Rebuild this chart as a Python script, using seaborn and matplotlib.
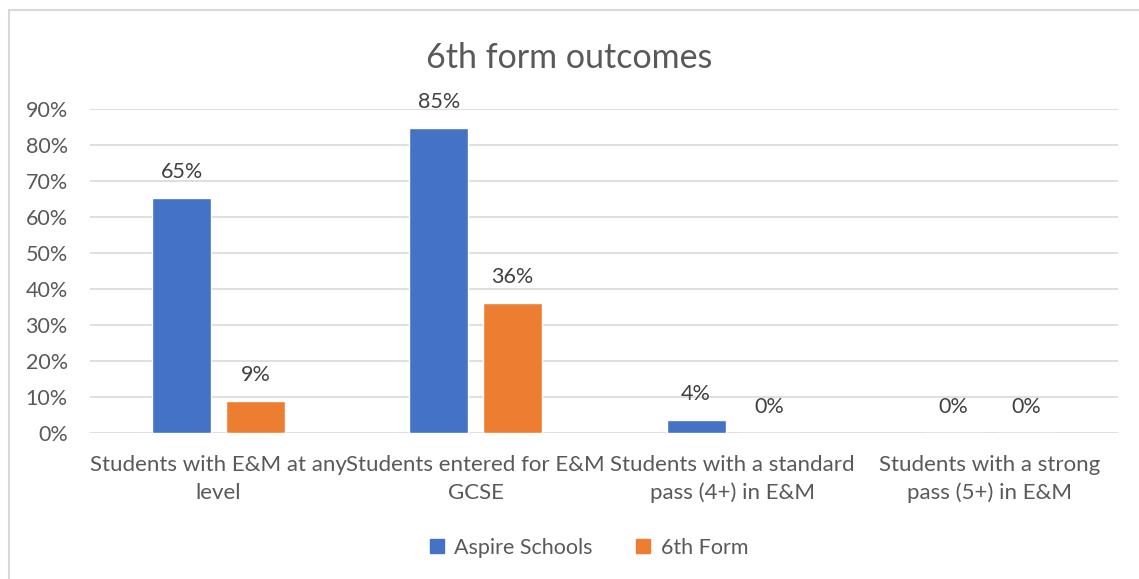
import pandas as pd
import matplotlib.pyplot as plt
import seaborn as sns
from matplotlib.lines import Line2D
from matplotlib.ticker import PercentFormatter

# Data
categories = ['Students with E&M at any\nlevel', 'Students entered for E&M\nGCSE',
              'Students with a standard\npass (4+) in E&M', 'Students with a strong\npass (5+) in E&M']
aspire = [0.653, 0.847, 0.037, 0.0]
sixth_form = [0.089, 0.362, 0.0, 0.0]
series_names = ['Aspire Schools', '6th Form']
colors = ['#4472C4', '#ED7D31']

df = pd.DataFrame({
    'category': categories * 2,
    'value': aspire + sixth_form,
    'series': [series_names[0]] * 4 + [series_names[1]] * 4,
})

sns.set_style('white')
plt.rcParams['font.family'] = ['Lato', 'DejaVu Sans']
text_col = '#595959'

fig = plt.figure(figsize=(11.39, 5.79), dpi=100)
ax = fig.add_axes([0.079, 0.252, 0.903, 0.56])

sns.barplot(data=df, x='category', y='value', hue='series', palette=colors,
            width=0.572, gap=0.197, ax=ax, legend=False, saturation=1)

ax.set_ylim(0, 0.9)
ax.set_xlim(-0.5, 3.5)
ax.set_yticks([i / 10 for i in range(10)])
ax.yaxis.set_major_formatter(PercentFormatter(1.0, decimals=0))
ax.grid(axis='y', color='#D9D9D9', linewidth=1.2)
ax.set_axisbelow(True)
for s in ax.spines.values():
    s.set_visible(False)
ax.set_xlabel('')
ax.set_ylabel('')
ax.tick_params(axis='y', labelsize=15.5, labelcolor=text_col, length=0, pad=16)
ax.tick_params(axis='x', labelsize=16, labelcolor=text_col, length=0, pad=16)
for lbl in ax.get_xticklabels():
    lbl.set_linespacing(1.45)

# Data labels
for container in ax.containers:
    for bar in container:
        h = bar.get_height()
        ax.annotate(f'{h * 100:.0f}%', (bar.get_x() + bar.get_width() / 2, h),
                    xytext=(0, 18.5), textcoords='offset points',
                    ha='center', va='center', fontsize=15.5, color='#404040')

fig.text(0.5, 0.9, '6th form outcomes', ha='center', va='center',
         fontsize=24.5, color=text_col)

handles = [plt.Rectangle((0, 0), 1, 1, color=c) for c in colors]
fig.legend(handles, series_names, loc='center', bbox_to_anchor=(0.517, 0.054), ncol=2,
           frameon=False, fontsize=15.5, handlelength=0.65, handleheight=0.65,
           columnspacing=2.0, handletextpad=0.5, labelcolor=text_col)

# Chart border (left and top edges visible)
fig.add_artist(Line2D([0.0075, 0.0075], [0, 0.983], color='#D9D9D9', linewidth=1.5,
                      transform=fig.transFigure))
fig.add_artist(Line2D([0.0075, 1.0], [0.983, 0.983], color='#D9D9D9', linewidth=1.5,
                      transform=fig.transFigure))

fig.savefig('out.png', dpi=100, facecolor='white')
